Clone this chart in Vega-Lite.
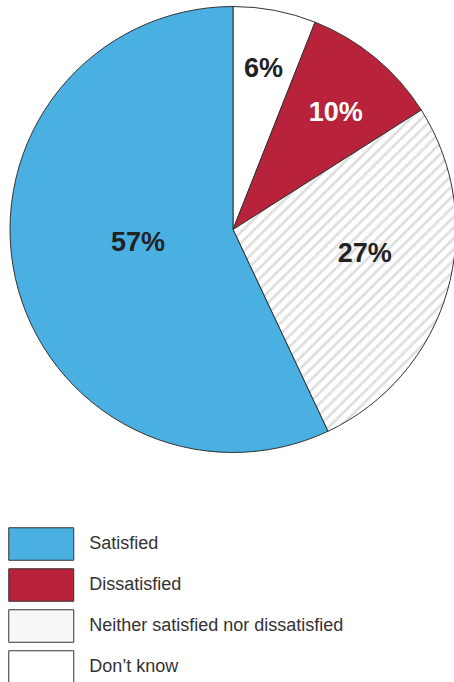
{
  "$schema": "https://vega.github.io/schema/vega-lite/v6.json",
  "autosize": "none",
  "width": 442,
  "height": 459,
  "padding": {"left": 12, "top": 0, "right": 0, "bottom": 223},
  "background": "white",
  "config": {"view": {"stroke": null}},
  "data": {
    "values": [
      {"category": "Don’t know", "value": 0.06},
      {"category": "Dissatisfied", "value": 0.10},
      {"category": "Neither satisfied nor dissatisfied", "value": 0.27},
      {"category": "Satisfied", "value": 0.57}
    ]
  },
  "transform": [{"window": [{"op": "row_number", "as": "idx"}]}],
  "encoding": {
    "theta": {"field": "value", "type": "quantitative", "stack": true, "scale": {"domain": [0, 1]}},
    "order": {"field": "idx", "type": "quantitative"}
  },
  "layer": [
    {
      "mark": {"type": "arc", "radius": 223, "stroke": "#333", "strokeWidth": 1},
      "encoding": {
        "color": {
          "condition": {
            "test": "datum.category === 'Neither satisfied nor dissatisfied'",
            "value": {"gradient": "linear", "x1": 0, "y1": 0, "x2": 0.787, "y2": 1.146, "stops": [
{"offset":0,"color":"#d8d8d8"},{"offset":0.006,"color":"#fff"},{"offset":0.014,"color":"#fff"},
{"offset":0.02,"color":"#d8d8d8"},{"offset":0.026,"color":"#fff"},{"offset":0.034,"color":"#fff"},
{"offset":0.04,"color":"#d8d8d8"},{"offset":0.046,"color":"#fff"},{"offset":0.054,"color":"#fff"},
{"offset":0.06,"color":"#d8d8d8"},{"offset":0.066,"color":"#fff"},{"offset":0.074,"color":"#fff"},
{"offset":0.08,"color":"#d8d8d8"},{"offset":0.086,"color":"#fff"},{"offset":0.094,"color":"#fff"},
{"offset":0.1,"color":"#d8d8d8"},{"offset":0.106,"color":"#fff"},{"offset":0.114,"color":"#fff"},
{"offset":0.12,"color":"#d8d8d8"},{"offset":0.126,"color":"#fff"},{"offset":0.134,"color":"#fff"},
{"offset":0.14,"color":"#d8d8d8"},{"offset":0.146,"color":"#fff"},{"offset":0.154,"color":"#fff"},
{"offset":0.16,"color":"#d8d8d8"},{"offset":0.166,"color":"#fff"},{"offset":0.174,"color":"#fff"},
{"offset":0.18,"color":"#d8d8d8"},{"offset":0.186,"color":"#fff"},{"offset":0.194,"color":"#fff"},
{"offset":0.2,"color":"#d8d8d8"},{"offset":0.206,"color":"#fff"},{"offset":0.214,"color":"#fff"},
{"offset":0.22,"color":"#d8d8d8"},{"offset":0.226,"color":"#fff"},{"offset":0.234,"color":"#fff"},
{"offset":0.24,"color":"#d8d8d8"},{"offset":0.246,"color":"#fff"},{"offset":0.254,"color":"#fff"},
{"offset":0.26,"color":"#d8d8d8"},{"offset":0.266,"color":"#fff"},{"offset":0.274,"color":"#fff"},
{"offset":0.28,"color":"#d8d8d8"},{"offset":0.286,"color":"#fff"},{"offset":0.294,"color":"#fff"},
{"offset":0.3,"color":"#d8d8d8"},{"offset":0.306,"color":"#fff"},{"offset":0.314,"color":"#fff"},
{"offset":0.32,"color":"#d8d8d8"},{"offset":0.326,"color":"#fff"},{"offset":0.334,"color":"#fff"},
{"offset":0.34,"color":"#d8d8d8"},{"offset":0.346,"color":"#fff"},{"offset":0.354,"color":"#fff"},
{"offset":0.36,"color":"#d8d8d8"},{"offset":0.366,"color":"#fff"},{"offset":0.374,"color":"#fff"},
{"offset":0.38,"color":"#d8d8d8"},{"offset":0.386,"color":"#fff"},{"offset":0.394,"color":"#fff"},
{"offset":0.4,"color":"#d8d8d8"},{"offset":0.406,"color":"#fff"},{"offset":0.414,"color":"#fff"},
{"offset":0.42,"color":"#d8d8d8"},{"offset":0.426,"color":"#fff"},{"offset":0.434,"color":"#fff"},
{"offset":0.44,"color":"#d8d8d8"},{"offset":0.446,"color":"#fff"},{"offset":0.454,"color":"#fff"},
{"offset":0.46,"color":"#d8d8d8"},{"offset":0.466,"color":"#fff"},{"offset":0.474,"color":"#fff"},
{"offset":0.48,"color":"#d8d8d8"},{"offset":0.486,"color":"#fff"},{"offset":0.494,"color":"#fff"},
{"offset":0.5,"color":"#d8d8d8"},{"offset":0.506,"color":"#fff"},{"offset":0.514,"color":"#fff"},
{"offset":0.52,"color":"#d8d8d8"},{"offset":0.526,"color":"#fff"},{"offset":0.534,"color":"#fff"},
{"offset":0.54,"color":"#d8d8d8"},{"offset":0.546,"color":"#fff"},{"offset":0.554,"color":"#fff"},
{"offset":0.56,"color":"#d8d8d8"},{"offset":0.566,"color":"#fff"},{"offset":0.574,"color":"#fff"},
{"offset":0.58,"color":"#d8d8d8"},{"offset":0.586,"color":"#fff"},{"offset":0.594,"color":"#fff"},
{"offset":0.6,"color":"#d8d8d8"},{"offset":0.606,"color":"#fff"},{"offset":0.614,"color":"#fff"},
{"offset":0.62,"color":"#d8d8d8"},{"offset":0.626,"color":"#fff"},{"offset":0.634,"color":"#fff"},
{"offset":0.64,"color":"#d8d8d8"},{"offset":0.646,"color":"#fff"},{"offset":0.654,"color":"#fff"},
{"offset":0.66,"color":"#d8d8d8"},{"offset":0.666,"color":"#fff"},{"offset":0.674,"color":"#fff"},
{"offset":0.68,"color":"#d8d8d8"},{"offset":0.686,"color":"#fff"},{"offset":0.694,"color":"#fff"},
{"offset":0.7,"color":"#d8d8d8"},{"offset":0.706,"color":"#fff"},{"offset":0.714,"color":"#fff"},
{"offset":0.72,"color":"#d8d8d8"},{"offset":0.726,"color":"#fff"},{"offset":0.734,"color":"#fff"},
{"offset":0.74,"color":"#d8d8d8"},{"offset":0.746,"color":"#fff"},{"offset":0.754,"color":"#fff"},
{"offset":0.76,"color":"#d8d8d8"},{"offset":0.766,"color":"#fff"},{"offset":0.774,"color":"#fff"},
{"offset":0.78,"color":"#d8d8d8"},{"offset":0.786,"color":"#fff"},{"offset":0.794,"color":"#fff"},
{"offset":0.8,"color":"#d8d8d8"},{"offset":0.806,"color":"#fff"},{"offset":0.814,"color":"#fff"},
{"offset":0.82,"color":"#d8d8d8"},{"offset":0.826,"color":"#fff"},{"offset":0.834,"color":"#fff"},
{"offset":0.84,"color":"#d8d8d8"},{"offset":0.846,"color":"#fff"},{"offset":0.854,"color":"#fff"},
{"offset":0.86,"color":"#d8d8d8"},{"offset":0.866,"color":"#fff"},{"offset":0.874,"color":"#fff"},
{"offset":0.88,"color":"#d8d8d8"},{"offset":0.886,"color":"#fff"},{"offset":0.894,"color":"#fff"},
{"offset":0.9,"color":"#d8d8d8"},{"offset":0.906,"color":"#fff"},{"offset":0.914,"color":"#fff"},
{"offset":0.92,"color":"#d8d8d8"},{"offset":0.926,"color":"#fff"},{"offset":0.934,"color":"#fff"},
{"offset":0.94,"color":"#d8d8d8"},{"offset":0.946,"color":"#fff"},{"offset":0.954,"color":"#fff"},
{"offset":0.96,"color":"#d8d8d8"},{"offset":0.966,"color":"#fff"},{"offset":0.974,"color":"#fff"},
{"offset":0.98,"color":"#d8d8d8"},{"offset":0.986,"color":"#fff"},{"offset":0.994,"color":"#fff"},
{"offset":1,"color":"#d8d8d8"}
            ]}
          },
          "field": "category",
          "type": "nominal",
          "scale": {
            "domain": ["Satisfied", "Dissatisfied", "Neither satisfied nor dissatisfied", "Don’t know"],
            "range": ["#4aafe1", "#b8233b", "#f7f7f7", "#ffffff"]
          },
          "legend": {
            "orient": "none",
            "legendX": 12.25,
            "legendY": 527,
            "title": null,
            "symbolType": "M-2,-1H2V1H-2Z",
            "symbolSize": 1056.25,
            "symbolStrokeWidth": 1,
            "symbolStrokeColor": "#333",
            "symbolOpacity": 1,
            "labelFont": "Liberation Sans",
            "labelFontSize": 18,
            "labelColor": "#333",
            "labelOffset": 31,
            "labelLimit": 400,
            "rowPadding": 3
          }
        }
      }
    },
    {
      "mark": {
        "type": "text",
        "font": "Liberation Sans",
        "fontWeight": "bold",
        "fontSize": 27,
        "baseline": "middle",
        "align": "center",
        "radius": {"expr": "datum.value === 0.57 ? 96 : datum.value === 0.27 ? 134 : datum.value === 0.1 ? 155 : 163"},
        "thetaOffset": {"expr": "datum.value === 0.57 ? 0.08 : datum.value === 0.27 ? -0.1 : datum.value === 0.1 ? 0.033 : 0"}
      },
      "encoding": {
        "text": {"field": "value", "type": "quantitative", "format": ".0%"},
        "color": {"condition": {"test": "datum.value === 0.1", "value": "#ffffff"}, "value": "#222222"}
      }
    }
  ]
}
